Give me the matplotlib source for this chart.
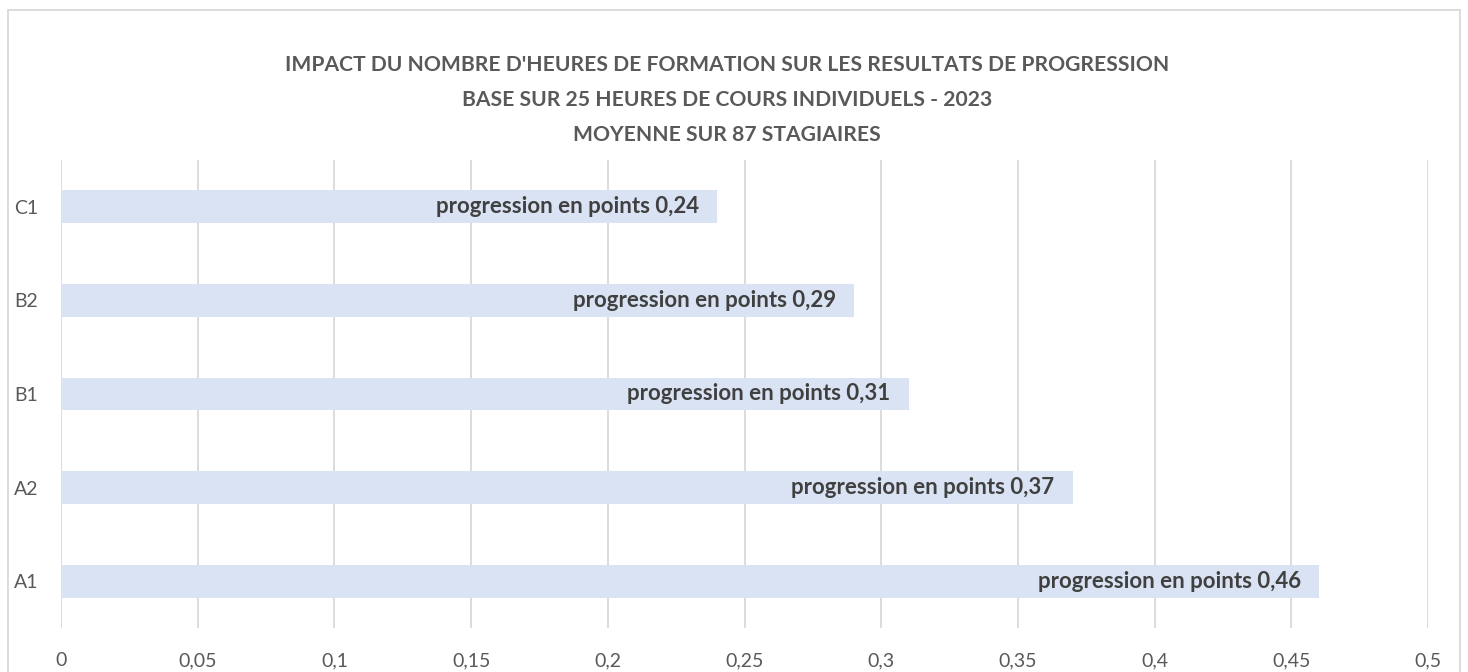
import matplotlib
matplotlib.use("Agg")
import matplotlib.pyplot as plt
from matplotlib.patches import Rectangle

categories = ["A1", "A2", "B1", "B2", "C1"]
values = [0.46, 0.37, 0.31, 0.29, 0.24]
series_name = "progression en points"
xticks = [0, 0.05, 0.1, 0.15, 0.2, 0.25, 0.3, 0.35, 0.4, 0.45, 0.5]
title_lines = [
    "IMPACT DU NOMBRE D'HEURES DE FORMATION SUR LES RESULTATS DE PROGRESSION",
    "BASE SUR 25 HEURES DE COURS INDIVIDUELS - 2023",
    "MOYENNE SUR 87 STAGIAIRES",
]

W, H = 1468, 672
plt.rcParams['font.family'] = ['Lato', 'DejaVu Sans']
fig = plt.figure(figsize=(W / 100, H / 100), dpi=100)
fig.patch.set_facecolor("white")

# outer chart border
fig.patches.append(Rectangle((8 / W, -20 / H), (1460 - 8) / W, (H - 10 + 20) / H,
                             transform=fig.transFigure, fill=False,
                             edgecolor="#D9D9D9", linewidth=1.3, clip_on=False))

left, right, top, bottom = 61, 1428, 160, 628
ax = fig.add_axes([left / W, (H - bottom) / H, (right - left) / W, (bottom - top) / H])

ypos = list(range(len(categories)))
ax.barh(ypos, values, height=0.35, color="#DAE3F3", zorder=2)
ax.set_ylim(-0.5, len(categories) - 0.5)
ax.set_xlim(0, 0.5)
ax.set_xticks(xticks)
ax.set_xticklabels([("%g" % t).replace(".", ",") for t in xticks])
ax.set_yticks(ypos)
ax.set_yticklabels(categories)
for s in ax.spines.values():
    s.set_visible(False)
ax.tick_params(axis="both", length=0, labelsize=14, labelcolor="#595959")
ax.tick_params(axis="x", pad=17.5)
ax.tick_params(axis="y", pad=34)
for lbl in ax.get_yticklabels():
    lbl.set_horizontalalignment("left")
ax.xaxis.grid(True, color="#D9D9D9", linewidth=1.3, zorder=0)
ax.set_axisbelow(True)

for y, v in zip(ypos, values):
    ax.annotate("%s %s" % (series_name, ("%g" % v).replace(".", ",")),
                xy=(v, y), xytext=(-18, 0), textcoords="offset pixels",
                ha="right", va="center", fontsize=16, fontweight="bold",
                color="#404040", zorder=3)

baselines = [71, 106, 141]
for t, yy in zip(title_lines, baselines):
    fig.text(727 / W, (H - yy) / H, t, ha="center", va="baseline",
             fontsize=15.2, fontweight="bold", color="#595959")

fig.savefig("out.png", dpi=100)
